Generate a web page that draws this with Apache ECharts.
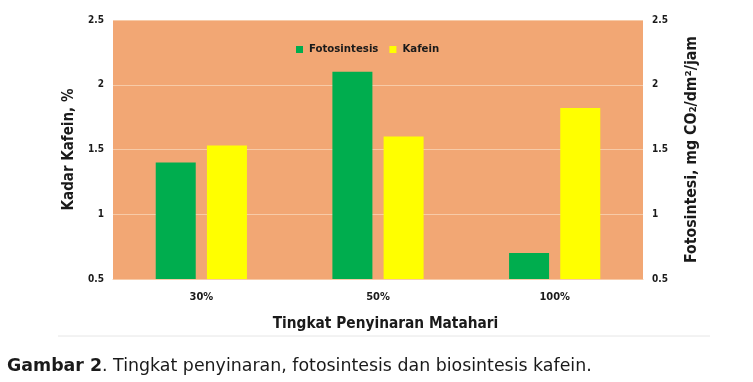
<!DOCTYPE html>
<html><head><meta charset="utf-8">
<script src="https://cdn.jsdelivr.net/npm/echarts@6/dist/echarts.min.js"></script>
<style>html,body{margin:0;padding:0;background:#fff}#c{width:753px;height:382px}</style>
</head><body><div id="c"></div>
<script>
const categories = ['30%', '50%', '100%'];
const fotosintesis = [1.40, 2.10, 0.70];
const kafein = [1.53, 1.60, 1.82];
const yTicks = { min: 0.5, max: 2.5, interval: 0.5 };

const F = "'DejaVu Sans Condensed', 'DejaVu Sans', sans-serif";
const F2 = "'DejaVu Sans', sans-serif";
const txt = '#1a1a1a';
const chart = echarts.init(document.getElementById('c'), null, { renderer: 'canvas' });
const yCommon = {
  type: 'value', min: yTicks.min, max: yTicks.max, interval: yTicks.interval,
  nameLocation: 'middle', nameRotate: 90,
  nameTextStyle: { fontFamily: F, fontWeight: 'bold', fontSize: 15, color: txt },
  axisLine: { show: false }, axisTick: { show: false },
  axisLabel: { fontFamily: F, fontWeight: 'bold', fontSize: 10, color: txt, margin: 9 },
  splitLine: { show: true, lineStyle: { color: '#F7CBA8', width: 1 } }
};
chart.setOption({
  animation: false,
  grid: { left: 113, right: 110, top: 20, bottom: 103, show: true, backgroundColor: '#F2A774', borderWidth: 0 },
  legend: {
    left: 291, top: 39, icon: 'rect', itemWidth: 7, itemHeight: 7, itemGap: 11,
    textStyle: { fontFamily: F, fontWeight: 'bold', fontSize: 11.3, color: txt, padding: [0, 0, 0, 1] },
    data: ['Fotosintesis', 'Kafein']
  },
  xAxis: {
    type: 'category', data: categories,
    name: 'Tingkat Penyinaran Matahari', nameLocation: 'middle', nameGap: 38,
    nameTextStyle: { fontFamily: F, fontWeight: 'bold', fontSize: 15.3, color: txt, padding: [0, 0, 0, 15] },
    axisLine: { show: true, lineStyle: { color: '#F7CBA8' } }, axisTick: { show: false },
    axisLabel: { fontFamily: F, fontWeight: 'bold', fontSize: 11, color: txt, margin: 13 }
  },
  yAxis: [
    Object.assign({}, yCommon, { position: 'left', name: 'Kadar Kafein, %', nameGap: 36 }),
    Object.assign({}, yCommon, { position: 'right', name: 'Fotosintesi, mg CO₂/dm²/jam', nameGap: 41,
      nameTextStyle: { fontFamily: F, fontWeight: 'bold', fontSize: 15.7, color: txt },
      splitLine: { show: false } })
  ],
  series: [
    { name: 'Fotosintesis', type: 'bar', yAxisIndex: 1, data: fotosintesis, barWidth: 40, barGap: '28%',
      itemStyle: { color: '#00AD4E' } },
    { name: 'Kafein', type: 'bar', yAxisIndex: 0, data: kafein, barWidth: 40,
      itemStyle: { color: '#FFFF00' } }
  ],
  graphic: [
    { type: 'line', shape: { x1: 58, y1: 336, x2: 710, y2: 336 }, style: { stroke: '#e6e6e6', lineWidth: 1 } },
    { type: 'text', left: 7, top: 358, style: {
      text: '{b|Gambar 2}. Tingkat penyinaran, fotosintesis dan biosintesis kafein.',
      font: '17.4px ' + F2, fill: txt,
      rich: { b: { fontFamily: F2, fontWeight: 'bold', fontSize: 17.4, fill: txt } }
    } }
  ]
});
</script></body></html>
